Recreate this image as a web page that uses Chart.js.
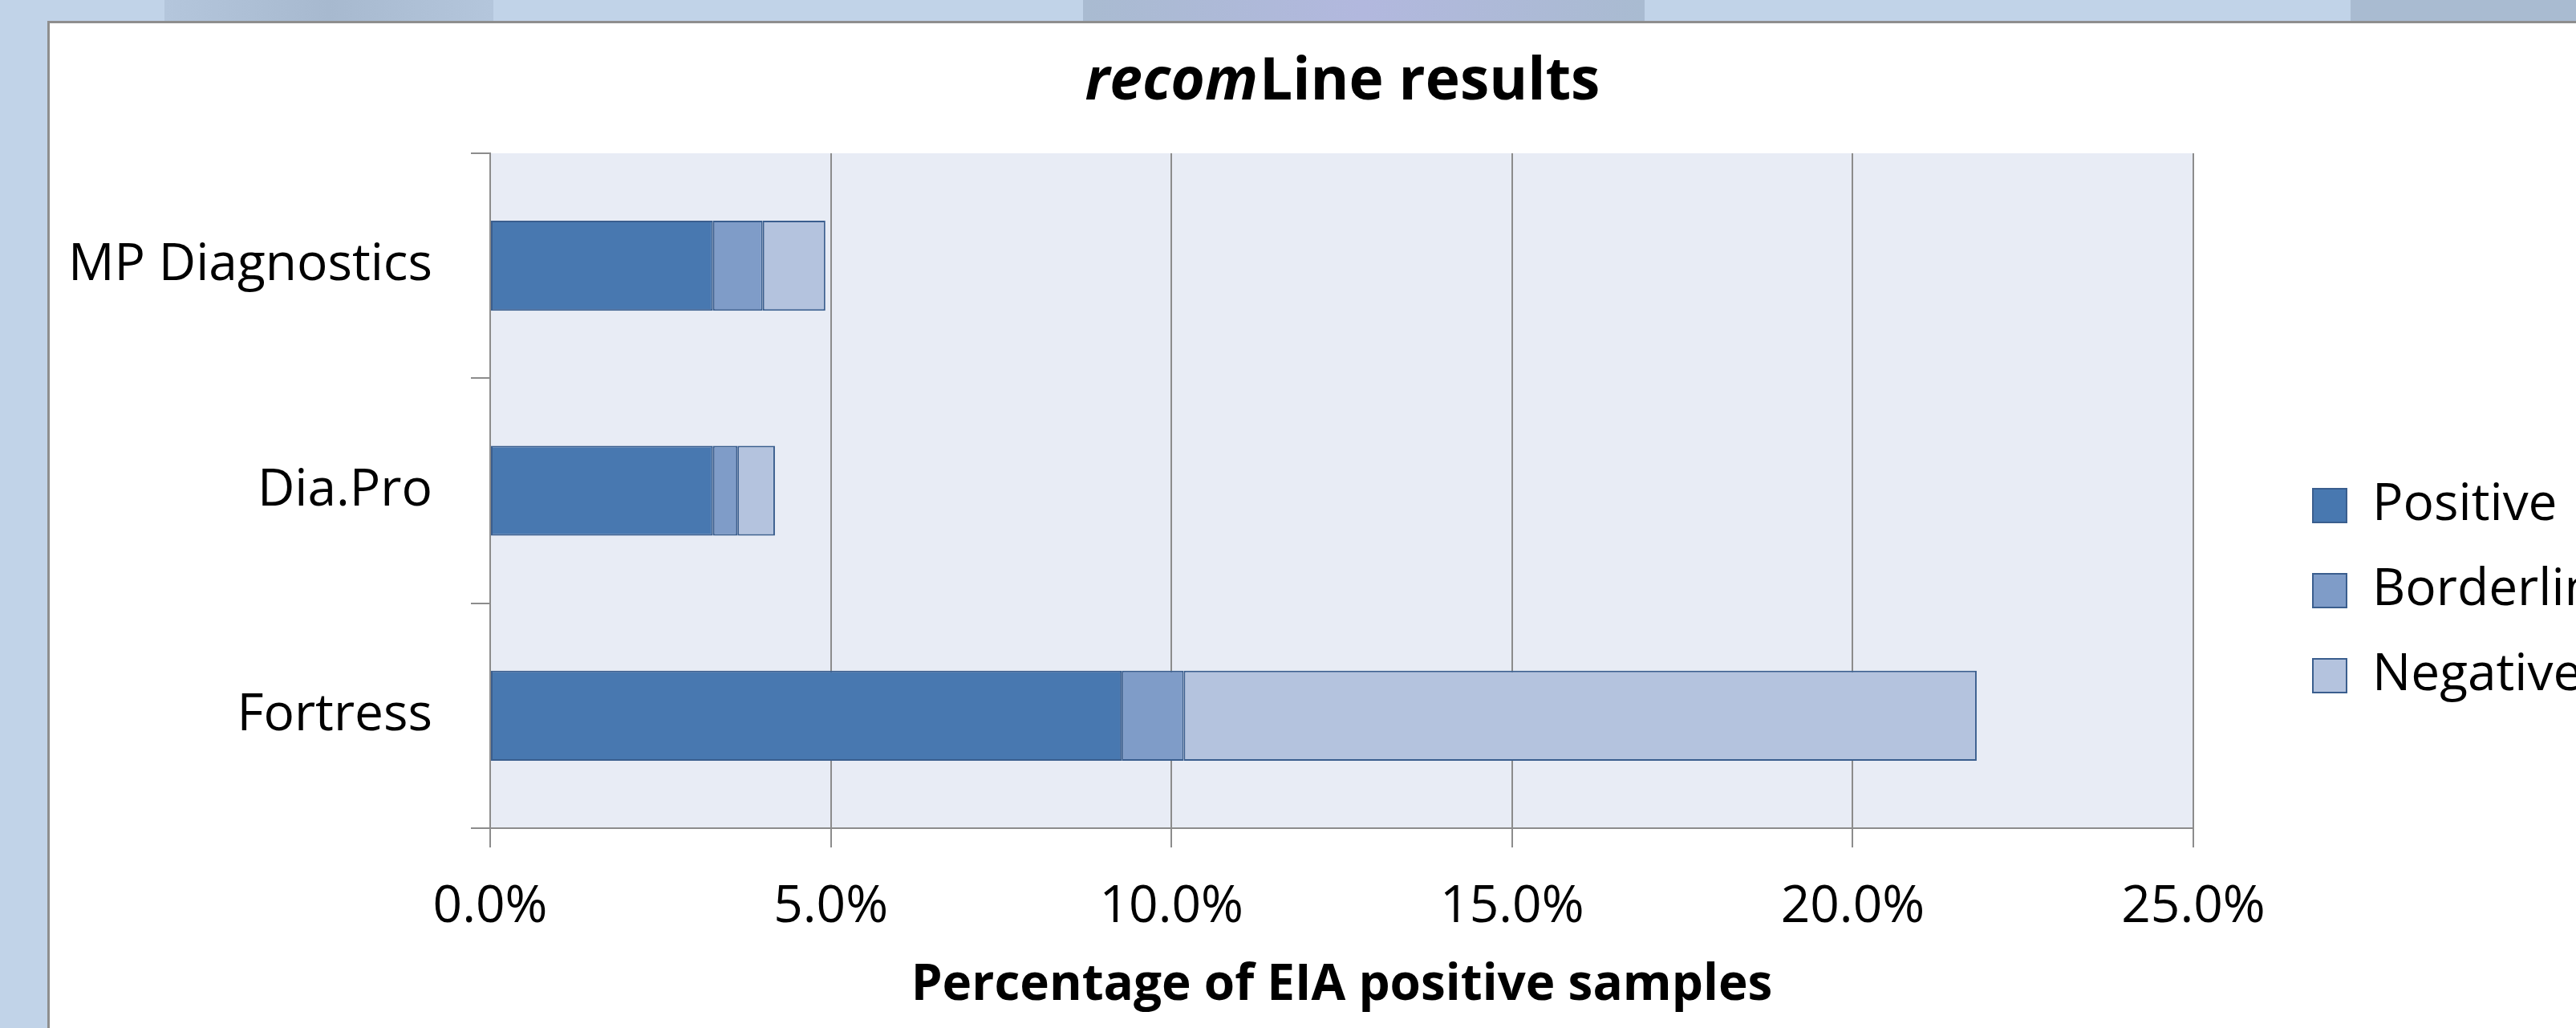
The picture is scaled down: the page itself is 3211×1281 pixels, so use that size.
<!DOCTYPE html>
<html>
<head>
<meta charset="utf-8">
<script src="https://cdn.jsdelivr.net/npm/chart.js@4.4.0/dist/chart.umd.min.js"></script>
<style>
  html, body { margin: 0; padding: 0; }
  body { width: 3211px; height: 1281px; overflow: hidden; position: relative; background: #c1d3e8; }
  .deco { position: absolute; top: 0; height: 27px; }
  #frame { position: absolute; left: 59px; top: 26px; width: 3300px; height: 1400px; background: #fff;
           border-top: 3px solid #8e8e8e; border-left: 3px solid #8e8e8e; }
  #recom { position: absolute; left: 0; top: 0; }
</style>
</head>
<body>
<div class="deco" style="left:205px;width:410px;background:linear-gradient(90deg,#b4c6dc,#a7b9cf,#b4c6dc);"></div>
<div class="deco" style="left:1350px;width:700px;background:linear-gradient(90deg,#a9bbd1,#b2b8de,#a9bbd1);"></div>
<div class="deco" style="left:2930px;width:290px;background:#a9bbd1;"></div>
<div id="frame">
  <canvas id="recom" width="3400" height="1252"></canvas>
</div>
<script>
console.log("Running");

// values, in percent
const kits = ["MP Diagnostics", "Dia.Pro", "Fortress"];
const positive = [3.27, 3.27, 9.27];
const borderline = [0.73, 0.36, 0.91];
const negative = [0.92, 0.55, 11.64];
const series_names = ["Positive", "Borderline", "Negative"];
const series_colors = ["#4878b0", "#7f9cc8", "#b4c3de"];
const x_ticks = [0, 5, 10, 15, 20, 25];
const title_italic = "recom";
const title_rest = "Line results";
const x_title = "Percentage of EIA positive samples";

const font_family = '"Open Sans", "Noto Sans", sans-serif';
const grey = "#8c8c8c";

// light blue-grey plot background
const plotBg = {
    id: 'plotBg',
    beforeDraw(chart) {
        let a = chart.chartArea;
        let ctx = chart.ctx;
        ctx.save();
        ctx.fillStyle = "#e8ecf5";
        ctx.fillRect(a.left, a.top, a.right - a.left, a.bottom - a.top);
        ctx.restore();
    }
};

// title with the italic "recom" part
const mixedTitle = {
    id: 'mixedTitle',
    afterDraw(chart) {
        let a = chart.chartArea;
        let ctx = chart.ctx;
        ctx.save();
        ctx.fillStyle = "#000";
        ctx.textBaseline = "middle";
        ctx.font = "italic bold 73px " + font_family;
        let w1 = ctx.measureText(title_italic).width;
        ctx.font = "bold 73px " + font_family;
        let w2 = ctx.measureText(title_rest).width;
        let x = (a.left + a.right) / 2 - (w1 + w2) / 2;
        let y = a.top - 88;
        ctx.font = "italic bold 73px " + font_family;
        ctx.fillText(title_italic, x, y);
        ctx.font = "bold 73px " + font_family;
        ctx.fillText(title_rest, x + w1 + 2, y);
        ctx.restore();
    }
};

// push the legend a bit away from the plot and let its text run off the edge
const legendGap = {
    id: 'legendGap',
    afterLayout(chart) {
        let lg = chart.legend;
        lg.left += 107;
        lg.right += 700;
        lg.width = lg.right - lg.left;
    }
};

const values = [positive, borderline, negative];
const datasets = [];
for (let i = 0; i < series_names.length; i++) {
    datasets.push({
        label: series_names[i],
        data: values[i],
        backgroundColor: series_colors[i],
        borderColor: "#3a5e8e",
        borderWidth: 2,
        borderSkipped: false,
        barPercentage: 0.4,
        categoryPercentage: 1.0
    });
}

const recom_config = {
    type: 'bar',
    data: { labels: kits, datasets: datasets },
    plugins: [plotBg, mixedTitle, legendGap],
    options: {
        indexAxis: 'y',
        responsive: false,
        animation: false,
        devicePixelRatio: 1,
        layout: { padding: { left: 0, top: 162, right: 428, bottom: 0 } },
        plugins: {
            title: { display: false },
            tooltip: { enabled: false },
            legend: {
                position: 'right',
                maxWidth: 300,
                labels: {
                    color: "#000",
                    font: { family: font_family, size: 64 },
                    boxWidth: 42,
                    boxHeight: 42,
                    padding: 42
                }
            }
        },
        scales: {
            x: {
                stacked: true,
                min: 0,
                max: 25,
                afterBuildTicks: (scale) => { scale.ticks = x_ticks.map(v => ({ value: v })); },
                afterFit: (scale) => { scale.height = 249; },
                grid: { color: grey, lineWidth: 2, tickLength: 24, drawOnChartArea: true },
                border: { display: true, color: grey, width: 2 },
                ticks: {
                    color: "#000",
                    padding: 36,
                    font: { family: font_family, size: 64 },
                    callback: (v) => v.toFixed(1) + "%"
                },
                title: {
                    display: true,
                    text: x_title,
                    color: "#000",
                    font: { family: font_family, size: 62, weight: 'bold' },
                    padding: { top: 0, bottom: 15 }
                }
            },
            y: {
                stacked: true,
                afterFit: (scale) => { scale.width = 549; },
                grid: { color: grey, lineWidth: 2, tickLength: 24, drawOnChartArea: false, offset: true },
                border: { display: true, color: grey, width: 2 },
                ticks: {
                    color: "#000",
                    padding: 48,
                    font: { family: font_family, size: 64 }
                }
            }
        }
    }
};

const recom_chart = new Chart(
    document.getElementById('recom'),
    recom_config
);
</script>
</body>
</html>
